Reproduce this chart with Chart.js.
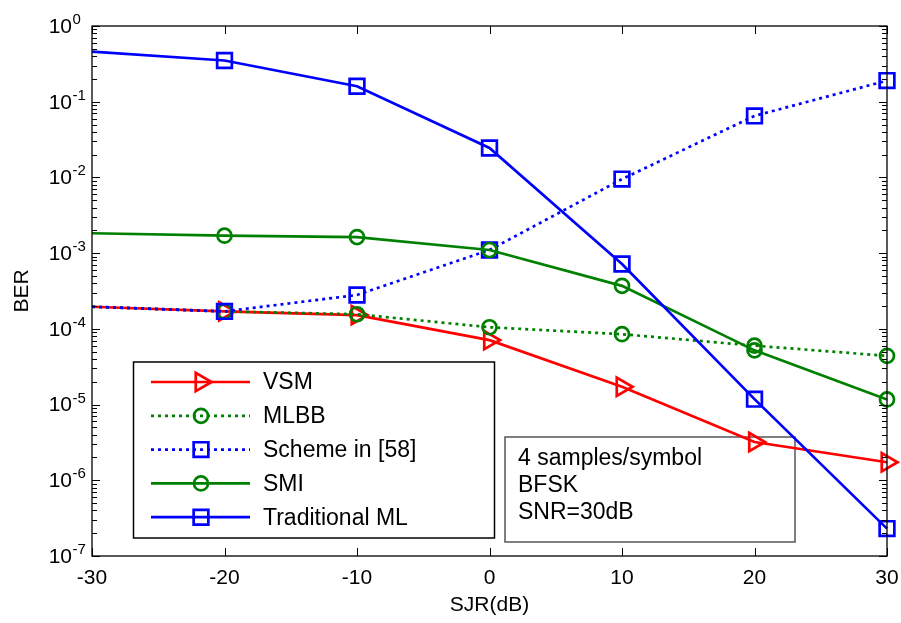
<!DOCTYPE html>
<html>
<head>
<meta charset="utf-8">
<script src="https://cdn.jsdelivr.net/npm/chart.js@4.4.0/dist/chart.umd.min.js"></script>
<style>
  html, body { margin: 0; padding: 0; background: #fff; }
  #wrap { width: 901px; height: 623px; }
</style>
</head>
<body>
<div id="wrap"><canvas id="c" width="901" height="623"></canvas></div>
<script>
// values
const sjr = [-30, -20, -10, 0, 10, 20, 30];
const vsm = [1.96e-4, 1.7e-4, 1.52e-4, 7.1e-5, 1.72e-5, 3.2e-6, 1.73e-6];
const mlbb = [1.96e-4, 1.7e-4, 1.56e-4, 1.05e-4, 8.5e-5, 6.0e-5, 4.4e-5];
const scheme58 = [1.96e-4, 1.7e-4, 2.8e-4, 1.1e-3, 9.5e-3, 0.065, 0.19];
const smi = [1.83e-3, 1.7e-3, 1.63e-3, 1.1e-3, 3.7e-4, 5.2e-5, 1.17e-5];
const tradML = [0.46, 0.35, 0.16, 0.0245, 7.2e-4, 1.18e-5, 2.3e-7];
const xTicks = [-30, -20, -10, 0, 10, 20, 30];
const yDecades = [0, -1, -2, -3, -4, -5, -6, -7];
const noteLines = ['4 samples/symbol', 'BFSK', 'SNR=30dB'];

const FONT = "'Liberation Sans', Arial, sans-serif";
const RED = '#ff0000', GREEN = '#008000', BLUE = '#0000ff';
const DOT = [3, 4];
const LW = 2.7;

function series(label, vals, color, dash, style, r, order) {
  return {
    label: label,
    data: vals.map((v, i) => ({x: sjr[i], y: v})),
    borderColor: color,
    backgroundColor: 'rgba(0,0,0,0)',
    borderWidth: LW,
    borderDash: dash,
    pointStyle: style,
    pointRotation: style === 'triangle' ? 90 : 0,
    pointRadius: sjr.map(x => x === -30 ? 0 : r),
    pointBorderColor: color,
    pointBackgroundColor: 'rgba(0,0,0,0)',
    pointBorderWidth: LW,
    tension: 0,
    clip: false,
    order: order
  };
}

const datasets = [
  series('VSM', vsm, RED, [], 'triangle', 10.5, 5),
  series('MLBB', mlbb, GREEN, DOT, 'circle', 7, 4),
  series('Scheme in [58]', scheme58, BLUE, DOT, 'rect', 10.4, 3),
  series('SMI', smi, GREEN, [], 'circle', 7, 2),
  series('Traditional ML', tradML, BLUE, [], 'rect', 10.4, 1)
];

function marker(ctx, ds, x, y) {
  const opts = {pointStyle: ds.pointStyle, rotation: ds.pointRotation,
                radius: Math.max(...ds.pointRadius), borderWidth: ds.pointBorderWidth};
  ctx.setLineDash([]);
  ctx.strokeStyle = ds.borderColor;
  ctx.fillStyle = 'rgba(0,0,0,0)';
  ctx.lineWidth = ds.pointBorderWidth;
  Chart.helpers.drawPoint(ctx, opts, x, y);
}

const decor = {
  id: 'decor',
  beforeDatasetsDraw(chart) {
    const ctx = chart.ctx;
    // text box (lines run across it)
    ctx.save();
    ctx.strokeStyle = '#555';
    ctx.lineWidth = 1.5;
    ctx.strokeRect(505, 437, 290, 105);
    ctx.fillStyle = '#000';
    ctx.font = '23px ' + FONT;
    ctx.textAlign = 'left';
    ctx.textBaseline = 'middle';
    noteLines.forEach((t, i) => ctx.fillText(t, 518, 459 + i * 27));
    ctx.restore();
  },
  afterDatasetsDraw(chart) {
    const ctx = chart.ctx;
    const a = chart.chartArea;
    const xs = chart.scales.x, ys = chart.scales.y;
    ctx.save();
    ctx.strokeStyle = '#000';
    ctx.lineWidth = 1;
    ctx.setLineDash([]);
    ctx.beginPath();
    xTicks.forEach(v => {
      const px = Math.round(xs.getPixelForValue(v)) + 0.5;
      ctx.moveTo(px, a.bottom); ctx.lineTo(px, a.bottom - 8);
      ctx.moveTo(px, a.top); ctx.lineTo(px, a.top + 8);
    });
    yDecades.forEach(d => {
      const py = Math.round(ys.getPixelForValue(Math.pow(10, d))) + 0.5;
      ctx.moveTo(a.left, py); ctx.lineTo(a.left + 8, py);
      ctx.moveTo(a.right, py); ctx.lineTo(a.right - 8, py);
      if (d < 0) {
        for (let k = 2; k <= 9; k++) {
          const pm = Math.round(ys.getPixelForValue(k * Math.pow(10, d))) + 0.5;
          ctx.moveTo(a.left, pm); ctx.lineTo(a.left + 5, pm);
          ctx.moveTo(a.right, pm); ctx.lineTo(a.right - 5, pm);
        }
      }
    });
    ctx.stroke();
    ctx.lineWidth = 1.3;
    ctx.strokeRect(a.left, a.top, a.right - a.left, a.bottom - a.top);

    // legend
    const lx = 133.5, ly = 362, lw = 361, lh = 176;
    ctx.fillStyle = '#fff';
    ctx.fillRect(lx, ly, lw, lh);
    ctx.lineWidth = 1.5;
    ctx.strokeStyle = '#000';
    ctx.strokeRect(lx, ly, lw, lh);
    datasets.forEach((ds, i) => {
      const y = 382 + i * 33.8;
      ctx.strokeStyle = ds.borderColor;
      ctx.lineWidth = ds.borderWidth;
      ctx.setLineDash(ds.borderDash);
      ctx.beginPath();
      ctx.moveTo(151, y); ctx.lineTo(250, y);
      ctx.stroke();
      marker(ctx, ds, 201, y);
      ctx.fillStyle = '#000';
      ctx.font = '23px ' + FONT;
      ctx.textAlign = 'left';
      ctx.textBaseline = 'middle';
      ctx.fillText(ds.label, 263, y + 1);
    });
    ctx.restore();
  },
  afterDraw(chart) {
    const ctx = chart.ctx;
    const ys = chart.scales.y;
    ctx.save();
    ctx.fillStyle = '#000';
    yDecades.forEach(d => {
      const py = ys.getPixelForValue(Math.pow(10, d));
      ctx.font = '21px ' + FONT;
      ctx.textAlign = 'right';
      ctx.textBaseline = 'middle';
      ctx.fillText('10', 72, py + 1);
      ctx.font = '15px ' + FONT;
      ctx.textAlign = 'left';
      ctx.textBaseline = 'alphabetic';
      ctx.fillText(String(d), 72.5, py - 2);
    });
    ctx.restore();
  }
};

new Chart(document.getElementById('c'), {
  type: 'line',
  data: {datasets: datasets},
  options: {
    responsive: false,
    animation: false,
    layout: {padding: {left: 0, right: 14, top: 26, bottom: 0}},
    plugins: {legend: {display: false}, tooltip: {enabled: false}},
    scales: {
      x: {
        type: 'linear', min: -30, max: 30,
        afterBuildTicks: s => { s.ticks = xTicks.map(v => ({value: v})); },
        grid: {display: false, drawTicks: false},
        border: {display: false},
        ticks: {color: '#000', font: {family: FONT, size: 21}, padding: 10, maxRotation: 0, autoSkip: false},
        title: {display: true, text: 'SJR(dB)', color: '#000', font: {family: FONT, size: 21}, padding: {top: 0, bottom: 5}},
        afterFit: s => { s.height = 67; s.paddingLeft = 0; s.paddingRight = 0; }
      },
      y: {
        type: 'logarithmic', min: 1e-7, max: 1,
        grid: {display: false, drawTicks: false},
        border: {display: false},
        ticks: {display: false},
        title: {display: true, text: 'BER', color: '#000', font: {family: FONT, size: 21}, padding: {top: 10, bottom: 0}},
        afterFit: s => { s.width = 92; s.paddingTop = 0; s.paddingBottom = 0; }
      }
    }
  },
  plugins: [decor]
});
</script>
</body>
</html>
